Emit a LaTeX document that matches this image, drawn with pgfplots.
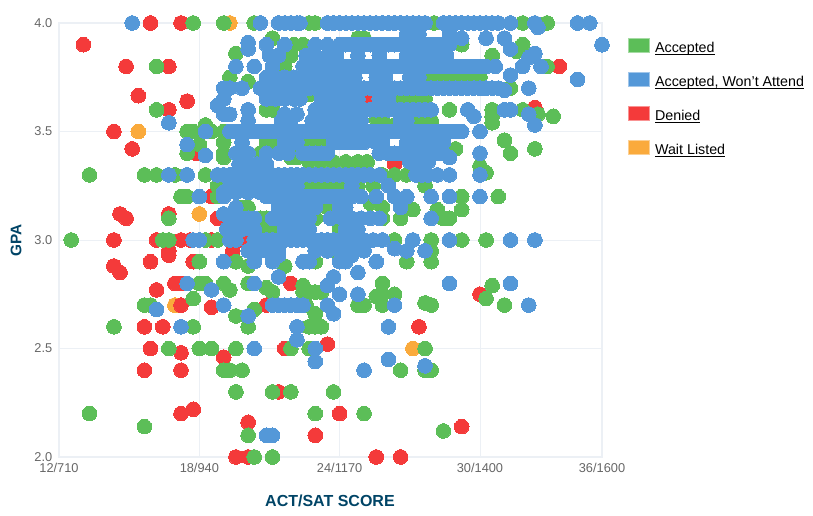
\documentclass[border=0pt]{standalone}
\usepackage{fontspec}
\setmainfont{Liberation Sans}
\usepackage{pgfplots}
\pgfplotsset{compat=1.18}

\definecolor{acc}{RGB}{92,190,88}
\definecolor{wont}{RGB}{84,152,216}
\definecolor{denied}{RGB}{244,58,58}
\definecolor{wait}{RGB}{250,170,60}
\definecolor{gridc}{RGB}{236,240,245}
\definecolor{ticktxt}{RGB}{102,102,102}
\definecolor{labeltxt}{RGB}{0,68,102}

\pgfplotsset{
  swatch/.style={legend image code/.code={
    \path[use as bounding box,draw=none,fill=none] (0pt,-5.4pt) rectangle (16pt,5.4pt);
    \draw[draw=#1!55!white,fill=#1,line width=.8pt] (0pt,-2.8pt) rectangle (16pt,8pt);}},
  dots/.style={only marks,forget plot,mark=*,mark size=5.5pt,
    mark options={fill=#1,draw=#1,line width=0pt}},
}

\begin{document}
\begin{tikzpicture}
\path[use as bounding box] (0,0) rectangle (609.75pt,387pt);
\begin{axis}[
    at={(44.25pt,44.25pt)}, anchor=south west,
    scale only axis, width=407.25pt, height=325.5pt,
    xmin=710, xmax=1600, ymin=2, ymax=4,
    clip=false,
    xtick={710,940,1170,1400,1600},
    xticklabels={12/710,18/940,24/1170,30/1400,36/1600},
    ytick={2,2.5,3,3.5,4},
    yticklabels={2.0,2.5,3.0,3.5,4.0},
    major tick length=0pt,
    grid=major,
    grid style={draw=gridc,line width=.7pt},
    axis line style={draw=gridc,line width=1pt},
    ticklabel style={font=\fontsize{9.6}{11}\selectfont,text=ticktxt},
    xticklabel style={yshift=-1.5pt},
    yticklabel style={xshift=-1.5pt},
    xlabel={\textbf{ACT/SAT SCORE}},
    ylabel={\textbf{GPA}},
    xlabel style={at={(axis description cs:0.499,-0.101)},anchor=center,
      font=\fontsize{12}{14}\selectfont,text=labeltxt},
    ylabel style={at={(axis description cs:-0.079,0.5)},anchor=center,
      font=\fontsize{11.5}{13}\selectfont,text=labeltxt},
    legend style={at={(1.0487,0.96)},anchor=north west,draw=none,fill=none,
      font=\fontsize{10.7}{12}\selectfont,inner sep=0pt,outer sep=0pt,
      row sep=12.5pt,
      nodes={inner sep=1pt,text height=8pt,text depth=3pt},
      /tikz/column 1/.style={column sep=3pt}},
    legend cell align=left,
]
\addlegendimage{swatch=acc}
\addlegendentry{\underline{\smash{Accepted}}}
\addlegendimage{swatch=wont}
\addlegendentry{\underline{\smash{Accepted, Won't Attend}}}
\addlegendimage{swatch=denied}
\addlegendentry{\underline{\smash{Denied}}}
\addlegendimage{swatch=wait}
\addlegendentry{\underline{\smash{Wait Listed}}}

% wait listed
\addplot[dots=wait] coordinates {
(990,4.0) (840,3.5) (940,3.12) (900,2.7) (1290,2.5)
};

% denied
\addplot[dots=denied] coordinates {
(860,4.0) (910,4.0) (750,3.9) (820,3.8) (890,3.8) (1530,3.8) (840,3.665)
(920,3.64) (890,3.6) (1490,3.61) (1220,3.65) (800,3.5) (830,3.42) (935,3.4)
(1260,3.35) (1128,3.25) (810,3.12) (890,3.12) (820,3.1) (970,3.1) (960,3.2)
(1015,3.05) (800,3.0) (870,3.0) (910,3.0) (925,3.0) (960,3.0) (1010,3.0)
(995,2.95) (890,2.95) (890,2.93) (860,2.9) (930,2.9) (800,2.88) (810,2.85)
(900,2.8) (910,2.8) (1090,2.8) (870,2.77) (1400,2.75) (910,2.7) (960,2.69)
(1050,2.7) (850,2.6) (880,2.6) (1300,2.6) (1150,2.52) (860,2.5) (1080,2.5)
(910,2.48) (980,2.46) (850,2.4) (910,2.4) (1070,2.3) (930,2.22) (910,2.2)
(1170,2.2) (1020,2.16) (1370,2.14) (1130,2.1) (1000,2.0) (1020,2.0) (1230,2.0)
(1270,2.0)
};

% accepted
\addplot[dots=acc] coordinates {
(930,4.0) (980,4.0) (1030,4.0) (1120,4.0) (1130,4.0) (1325,4.0) (1470,4.0) (1510,4.0)
(1060,3.93) (1200,3.93) (1210,3.93) (1370,3.9) (1095,3.9) (1110,3.9) (1230,3.9) (1470,3.9)
(1460,3.87) (1000,3.86) (1090,3.85) (1420,3.85)
(870,3.8) (1080,3.8) (1510,3.8) (1260,3.8)
(990,3.75) (1020,3.73) (1320,3.75) (1340,3.75) (1360,3.75) (1380,3.75) (1400,3.75)
(1270,3.65) (1290,3.65) (1310,3.65) (1450,3.7)
(870,3.6) (1350,3.6) (1120,3.67) (1050,3.6) (1060,3.6) (1470,3.6) (1420,3.6)
(1420,3.57) (1520,3.57) (1495,3.58) (1230,3.56) (1240,3.56)
(1280,3.55) (1300,3.55) (1320,3.55) (950,3.53) (1260,3.53) (1270,3.53) (1420,3.54)
(920,3.5) (930,3.5) (960,3.5) (980,3.5)
(980,3.45) (940,3.44) (1360,3.42) (1490,3.42) (1440,3.46)
(1050,3.45) (1060,3.45) (1110,3.45) (1130,3.45) (1150,3.45)
(920,3.4) (980,3.4) (1040,3.4) (1450,3.4) (980,3.38) (1090,3.38) (1100,3.38)
(1120,3.36) (1140,3.36) (1160,3.36) (1180,3.36) (1200,3.36) (1215,3.36)
(1400,3.34) (1410,3.31)
(760,3.3) (850,3.3) (870,3.3) (900,3.3) (950,3.3) (1240,3.3) (1260,3.3) (1280,3.3)
(970,3.25) (980,3.25) (1110,3.25) (1130,3.25) (1150,3.25) (1170,3.25) (1200,3.25) (1225,3.25) (1310,3.25)
(910,3.2) (920,3.2) (970,3.2) (1370,3.2) (1430,3.2) (1000,3.23) (1010,3.23)
(1220,3.17) (1010,3.15) (1020,3.15) (1240,3.15) (1150,3.15)
(1270,3.1) (1290,3.14) (1330,3.14) (1370,3.14)
(890,3.1) (1340,3.1) (1350,3.1) (1040,3.1) (1050,3.1) (1130,3.1) (1160,3.1) (1240,3.1)
(1040,3.05) (1060,3.05) (1170,3.05)
(730,3.0) (880,3.0) (890,3.0) (950,3.0) (970,3.0) (1320,3.0) (1370,3.0) (1410,3.0) (1260,3.0)
(1160,2.95) (1320,2.95)
(940,2.9) (1000,2.9) (1020,2.88) (1080,2.88) (1130,2.9) (1280,2.9) (1320,2.9)
(940,2.8) (950,2.8) (980,2.8) (1020,2.8) (1240,2.8) (1420,2.79)
(990,2.77) (1050,2.78) (1060,2.76) (1110,2.79) (1110,2.76) (1120,2.76) (1130,2.76) (1140,2.76)
(930,2.73) (1230,2.74) (1240,2.75) (1260,2.75) (1410,2.73)
(850,2.7) (860,2.7) (1030,2.68) (1115,2.7) (1200,2.7) (1210,2.7) (1240,2.7) (1310,2.71) (1320,2.7) (1440,2.7)
(1000,2.65) (1130,2.66)
(800,2.6) (930,2.6) (1020,2.6) (1120,2.6) (1130,2.6) (1140,2.6)
(890,2.5) (940,2.5) (960,2.5) (1000,2.5) (1090,2.5) (1120,2.5) (1310,2.5)
(980,2.4) (990,2.4) (1010,2.4) (1270,2.4) (1310,2.4) (1320,2.4)
(1000,2.3) (1060,2.3) (1090,2.3) (1160,2.3)
(760,2.2) (1130,2.2) (1210,2.2) (850,2.14) (1340,2.12) (1020,2.1)
(1030,2.0) (1060,2.0)
};

% accepted, won't attend
\addplot[dots=wont] coordinates {
(830,4.0) (1040,4.0) (1070,4.0) (1080,4.0) (1090,4.0) (1100,4.0) (1105,4.0) (1150,4.0) (1160,4.0) (1170,4.0) (1180,4.0) (1190,4.0) (1200,4.0) (1210,4.0) (1220,4.0) (1230,4.0) (1240,4.0) (1250,4.0) (1260,4.0) (1270,4.0) (1280,4.0) (1290,4.0) (1300,4.0) (1310,4.0) (1340,4.0) (1350,4.0) (1360,4.0) (1370,4.0) (1380,4.0) (1390,4.0) (1400,4.0) (1410,4.0) (1420,4.0) (1430,4.0) (1450,4.0) (1490,4.0) (1495,3.98) (1560,4.0) (1580,4.0)
(1280,3.95) (1300,3.95) (1350,3.95) (1370,3.93) (1410,3.93) (1440,3.93) (1450,3.88) (1490,3.86) (1600,3.9)
(1020,3.91) (1020,3.88) (1050,3.9) (1080,3.9) (1130,3.9) (1150,3.9) (1170,3.9) (1180,3.9) (1190,3.9) (1200,3.9) (1210,3.9) (1220,3.9) (1230,3.9) (1240,3.9) (1250,3.9) (1260,3.9) (1270,3.9) (1280,3.9) (1290,3.9) (1300,3.9) (1310,3.9) (1320,3.9) (1330,3.9) (1340,3.9) (1350,3.9)
(1055,3.85) (1070,3.85) (1115,3.85) (1130,3.85) (1150,3.85) (1165,3.85) (1200,3.85) (1235,3.85) (1280,3.85) (1290,3.85) (1300,3.85) (1315,3.85) (1330,3.85) (1345,3.85) (1480,3.84)
(1000,3.8) (1030,3.8) (1060,3.8) (1110,3.8) (1120,3.8) (1130,3.8) (1140,3.8) (1150,3.8) (1160,3.8) (1170,3.8) (1180,3.8) (1190,3.8) (1200,3.8) (1210,3.8) (1220,3.8) (1230,3.8) (1240,3.8) (1250,3.8) (1260,3.8) (1270,3.8) (1280,3.8) (1290,3.8) (1300,3.8) (1310,3.8) (1320,3.8) (1330,3.8) (1340,3.8) (1350,3.8) (1360,3.8) (1370,3.8) (1380,3.8) (1390,3.8) (1400,3.8) (1410,3.8) (1425,3.8) (1470,3.8) (1500,3.8)
(1050,3.75) (1065,3.75) (1080,3.75) (1095,3.75) (1110,3.75) (1125,3.75) (1140,3.75) (1155,3.75) (1170,3.75) (1185,3.75) (1195,3.75) (1230,3.75) (1245,3.75) (1285,3.75) (1300,3.75) (1450,3.76) (1560,3.74)
(980,3.7) (990,3.7) (1010,3.7) (1040,3.7) (1050,3.7) (1060,3.7) (1070,3.7) (1080,3.7) (1090,3.7) (1100,3.7) (1110,3.7) (1120,3.7) (1130,3.7) (1140,3.7) (1150,3.7) (1160,3.7) (1170,3.7) (1180,3.7) (1190,3.7) (1200,3.7) (1210,3.7) (1220,3.7) (1230,3.7) (1240,3.7) (1250,3.7) (1260,3.7) (1270,3.7) (1280,3.7) (1290,3.7) (1300,3.7) (1310,3.7) (1320,3.7) (1330,3.7) (1340,3.7) (1350,3.7) (1360,3.7) (1370,3.7) (1380,3.7) (1390,3.7) (1400,3.7) (1410,3.7) (1420,3.7) (1430,3.7) (1440,3.69) (1480,3.7)
(980,3.65) (970,3.62) (1050,3.65) (1065,3.65) (1080,3.65) (1095,3.65) (1105,3.65) (1140,3.65) (1155,3.65) (1170,3.65) (1185,3.65) (1200,3.65) (1235,3.65) (1250,3.65)
(1020,3.6) (1130,3.6) (1140,3.6) (1150,3.6) (1160,3.6) (1170,3.6) (1180,3.6) (1190,3.6) (1200,3.6) (1210,3.6) (1220,3.6) (1230,3.6) (1240,3.6) (1250,3.6) (1260,3.6) (1270,3.6) (1280,3.6) (1290,3.6) (1300,3.6) (1310,3.6) (1320,3.6) (1380,3.6) (1440,3.6) (1450,3.6) (1480,3.58)
(980,3.58) (990,3.58) (1080,3.58) (1100,3.58) (1390,3.57)
(890,3.54) (1020,3.55) (1075,3.55) (1090,3.55) (1125,3.55) (1140,3.55) (1160,3.55) (1180,3.55) (1190,3.55) (1205,3.55) (1270,3.55) (1280,3.55) (1490,3.53)
(950,3.5) (990,3.5) (1000,3.5) (1010,3.5) (1020,3.5) (1030,3.5) (1040,3.5) (1050,3.5) (1060,3.5) (1070,3.5) (1080,3.5) (1090,3.5) (1100,3.5) (1110,3.5) (1120,3.5) (1130,3.5) (1140,3.5) (1150,3.5) (1160,3.5) (1170,3.5) (1180,3.5) (1190,3.5) (1200,3.5) (1210,3.5) (1220,3.5) (1230,3.5) (1240,3.5) (1250,3.5) (1260,3.5) (1270,3.5) (1280,3.5) (1290,3.5) (1300,3.5) (1310,3.5) (1320,3.5) (1330,3.5) (1340,3.5) (1350,3.5) (1360,3.5) (1370,3.5) (1400,3.5)
(920,3.44) (1010,3.45) (1080,3.45) (1090,3.45) (1100,3.45) (1160,3.45) (1170,3.45) (1180,3.45) (1190,3.45) (1200,3.45) (1210,3.45) (1230,3.45) (1240,3.45) (1280,3.45) (1290,3.45) (1300,3.45) (1310,3.45) (1320,3.45) (1330,3.45) (1340,3.45)
(950,3.39) (1000,3.4) (1020,3.4) (1050,3.4) (1070,3.4) (1085,3.4) (1110,3.4) (1120,3.4) (1130,3.4) (1140,3.4) (1150,3.4) (1235,3.4) (1250,3.4) (1260,3.4) (1270,3.4) (1280,3.4) (1290,3.4) (1300,3.4) (1310,3.4) (1320,3.4) (1330,3.4) (1340,3.4) (1400,3.4)
(1005,3.35) (1020,3.35) (1035,3.35) (1050,3.35) (1285,3.36) (1300,3.36) (1315,3.36) (1350,3.38)
(890,3.3) (920,3.3) (970,3.3) (980,3.3) (990,3.3) (1000,3.3) (1010,3.3) (1020,3.3) (1030,3.3) (1040,3.3) (1050,3.3) (1060,3.3) (1070,3.3) (1080,3.3) (1090,3.3) (1100,3.3) (1110,3.3) (1120,3.3) (1130,3.3) (1140,3.3) (1150,3.3) (1160,3.3) (1170,3.3) (1180,3.3) (1190,3.3) (1200,3.3) (1210,3.3) (1220,3.3) (1235,3.3) (1295,3.3) (1305,3.3) (1315,3.3) (1330,3.3) (1350,3.3) (1400,3.3)
(990,3.25) (1000,3.25) (1010,3.25) (1020,3.25) (1030,3.25) (1040,3.25) (1050,3.25) (1060,3.25) (1070,3.25) (1080,3.25) (1090,3.25) (1100,3.25) (1190,3.25) (1250,3.25)
(980,3.22) (1000,3.22) (1020,3.22) (1040,3.22)
(940,3.2) (980,3.2) (1050,3.2) (1060,3.2) (1070,3.2) (1080,3.2) (1090,3.2) (1100,3.2) (1110,3.2) (1120,3.2) (1130,3.2) (1140,3.2) (1150,3.2) (1160,3.2) (1170,3.2) (1180,3.2) (1190,3.2) (1205,3.2) (1230,3.2) (1260,3.2) (1280,3.2) (1320,3.2) (1350,3.2) (1400,3.2)
(1000,3.15) (1070,3.15) (1080,3.15) (1090,3.15) (1100,3.15) (1110,3.15) (1120,3.15) (1130,3.15) (1170,3.15) (1180,3.15) (1270,3.15) (980,3.12)
(990,3.1) (1000,3.1) (1010,3.1) (1020,3.1) (1030,3.1) (1060,3.1) (1070,3.1) (1080,3.1) (1090,3.1) (1100,3.1) (1110,3.1) (1120,3.1) (1155,3.1) (1175,3.1) (1190,3.1) (1205,3.1) (1220,3.1) (1235,3.1) (1320,3.1)
(985,3.05) (1000,3.05) (1010,3.05) (1025,3.05) (1030,3.05) (1080,3.05) (1090,3.05) (1100,3.05) (1110,3.05) (1120,3.05) (1180,3.05) (1190,3.05) (1200,3.05)
(930,3.0) (940,3.0) (990,3.0) (1000,3.0) (1030,3.0) (1040,3.0) (1050,3.0) (1060,3.0) (1070,3.0) (1080,3.0) (1090,3.0) (1100,3.0) (1110,3.0) (1120,3.0) (1130,3.0) (1140,3.0) (1150,3.0) (1160,3.0) (1170,3.0) (1180,3.0) (1190,3.0) (1200,3.0) (1210,3.0) (1225,3.0) (1240,3.0) (1290,3.0) (1350,3.0) (1450,3.0) (1490,3.0)
(1020,2.95) (1030,2.95) (1040,2.95) (1050,2.95) (1060,2.95) (1070,2.95) (1130,2.95) (1150,2.95) (1170,2.95) (1190,2.95) (1210,2.95) (1260,2.96) (1280,2.95) (1310,2.95)
(980,2.9) (1030,2.9) (1060,2.9) (1070,2.93) (1110,2.9) (1120,2.9) (1170,2.9) (1180,2.9) (1190,2.93) (1230,2.9)
(1070,2.83) (1150,2.79) (1160,2.83) (1200,2.85) (1030,2.8) (920,2.8) (1350,2.8) (1450,2.8)
(960,2.77) (1170,2.75) (1200,2.75) (1150,2.7)
(870,2.68) (980,2.7) (1060,2.7) (1070,2.7) (1080,2.7) (1090,2.7) (1100,2.7) (1110,2.7) (1260,2.7) (1480,2.7)
(1020,2.65) (1160,2.66)
(910,2.6) (1100,2.6) (1250,2.6) (1100,2.54)
(1030,2.5) (1130,2.5) (1250,2.45) (1130,2.44) (1210,2.4) (1310,2.42)
(1050,2.1) (1060,2.1)
};
\end{axis}
\end{tikzpicture}
\end{document}
